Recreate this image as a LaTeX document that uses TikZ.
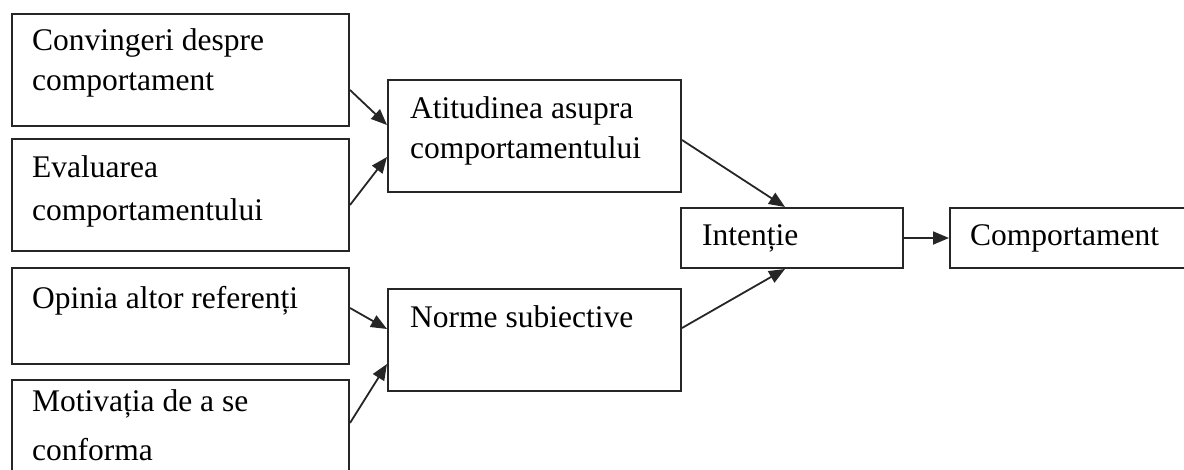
\documentclass[tikz,border=0pt]{standalone}
\usepackage{fontspec}
\setmainfont{Liberation Serif}
\usetikzlibrary{arrows.meta}
\begin{document}
\begin{tikzpicture}[x=1pt,y=-1pt,
  box/.style={draw=black!85,line width=2pt,rectangle,inner sep=0pt,anchor=north west},
  lbl/.style={anchor=base west,inner sep=0pt,font=\fontsize{31.5}{40}\selectfont},
  arr/.style={draw=black!85,line width=1.8pt,-{Triangle[length=16pt,width=13pt]}}]
\useasboundingbox (0,0) rectangle (1184,469);
\clip (0,0) rectangle (1184,469);

% left column
\node[box,minimum width=337pt,minimum height=112pt] (c1) at (11,13) {};
\node[box,minimum width=337pt,minimum height=112pt] (c2) at (11,138) {};
\node[box,minimum width=337pt,minimum height=96pt]  (c3) at (11,267) {};
\node[box,minimum width=337pt,minimum height=100pt] (c4) at (11,379) {};

% middle column
\node[box,minimum width=293pt,minimum height=112pt] (att) at (387,79) {};
\node[box,minimum width=293pt,minimum height=102pt] (nor) at (387,288) {};

% right part
\node[box,minimum width=222pt,minimum height=60pt] (int)  at (680,207) {};
\node[box,minimum width=250pt,minimum height=60pt] (comp) at (949,207) {};

% labels
\node[lbl] (c1t) at ([xshift=21pt,yshift=-37.7pt]c1.north west)
  {\parbox[t]{320pt}{Convingeri despre\\comportament}};
\node[lbl] (c2t) at ([xshift=21pt,yshift=-39pt]c2.north west)
  {\parbox[t]{320pt}{Evaluarea\\[3pt]comportamentului}};
\node[lbl] (c3t) at ([xshift=21pt,yshift=-41pt]c3.north west)
  {Opinia altor referenți};
\node[lbl] (c4t) at ([xshift=21pt,yshift=-32pt]c4.north west)
  {\parbox[t]{320pt}{Motivația de a se\\[9pt]conforma}};
\node[lbl] (attt) at ([xshift=23pt,yshift=-39pt]att.north west)
  {\parbox[t]{280pt}{Atitudinea asupra\\comportamentului}};
\node[lbl] (nort) at ([xshift=23pt,yshift=-39pt]nor.north west)
  {Norme subiective};
\node[lbl] (intt) at ([xshift=22pt,yshift=-38pt]int.north west)
  {Intenție};
\node[lbl] (compt) at ([xshift=21pt,yshift=-38pt]comp.north west)
  {Comportament};

% connectors
\draw[arr] ([yshift=-20pt]c1.east) -- ([yshift=11pt]att.west);
\draw[arr] ([yshift=-10pt]c2.east) -- ([yshift=-21pt]att.west);
\draw[arr] ([yshift=8pt]c3.east)   -- ([yshift=11pt]nor.west);
\draw[arr] ([yshift=7pt]c4.east)   -- ([yshift=-24pt]nor.west);
\draw[arr] ([yshift=-4pt]att.east) -- ([xshift=-7pt]int.north);
\draw[arr] ([yshift=12pt]nor.east) -- ([xshift=-7pt]int.south);
\draw[arr] (int.east) -- (comp.west);
\end{tikzpicture}
\end{document}
